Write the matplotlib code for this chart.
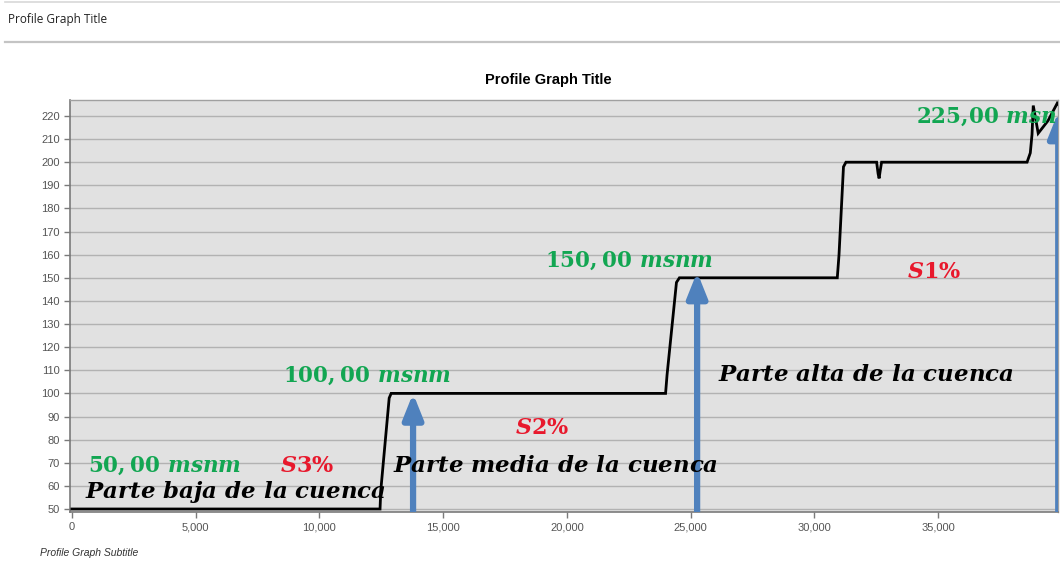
import matplotlib
matplotlib.use("Agg")
import matplotlib.pyplot as plt
from matplotlib.lines import Line2D
from matplotlib.patches import FancyArrowPatch
from matplotlib.ticker import FuncFormatter, MultipleLocator

# =============================================================================
# DATOS DEL PERFIL
# =============================================================================
dist = [0, 12450, 12480, 12820, 12900, 23990, 24050, 24430, 24550,
        30930, 31000, 31180, 31280, 32520, 32580, 32620, 32660, 32720,
        38600, 38730, 38800, 38850, 39050, 39450, 39820, 39950]
elev = [50, 50, 58, 98, 100, 100, 108, 148, 150,
        150, 160, 198, 200, 200, 195, 193, 196, 200,
        200, 204, 212, 224.5, 212.5, 218, 225.5, 224]

# flechas (distancia, cota de la punta)
arrow_x = [13785, 25265, 39860]
arrow_top = [100, 152.5, 221.7]

# etiquetas
cotas = [r"$50,00\ msnm$", r"$100,00\ msnm$", r"$150,00\ msnm$", r"$225{,}00\ msnm$"]
cotas_pos = [(647, 66.0), (8530, 104.9), (19121, 154.7), (34119, 217.0)]
pendientes = [r"$S3\%$", r"$S2\%$", r"$S1\%$"]
pendientes_pos = [(8408, 66.0), (17908, 82.4), (33755, 149.9)]
partes = [r"$Parte\ baja\ de\ la\ cuenca$", r"$Parte\ media\ de\ la\ cuenca$",
          r"$Parte\ alta\ de\ la\ cuenca$"]
partes_pos = [(526, 54.8), (12976, 66.0), (26115, 105.4)]

plt.rcParams["mathtext.fontset"] = "custom"
plt.rcParams["mathtext.rm"] = "DejaVu Serif:bold"
plt.rcParams["mathtext.it"] = "DejaVu Serif:italic:bold"
plt.rcParams["mathtext.bf"] = "DejaVu Serif:bold"

VERDE = "#12a652"
ROJO = "#e8182c"
AZUL = "#4f81bd"

fig = plt.figure(figsize=(10.6, 5.63), dpi=100, facecolor="white")

# cabecera de ventana
fig.add_artist(Line2D([0.005, 1.0], [1 - 1.5 / 563] * 2, color="#d8d8d8", lw=1.2))
fig.add_artist(Line2D([0.005, 1.0], [1 - 41.5 / 563] * 2, color="#c4c4c4", lw=1.6))
fig.text(8 / 1060, 1 - 20 / 563, "Profile Graph Title", fontsize=8.5,
         family="Open Sans", color="#222222", va="center", ha="left")

ax = fig.add_axes([70 / 1060, 51 / 563, 988 / 1060, 412 / 563])
ax.set_facecolor("#e1e1e1")
ax.set_xlim(-80, 39850)
ax.set_ylim(48.7, 226.9)

ax.yaxis.set_major_locator(MultipleLocator(10))
ax.xaxis.set_major_locator(MultipleLocator(5000))
ax.xaxis.set_major_formatter(FuncFormatter(lambda v, p: f"{int(v):,}"))
ax.grid(axis="y", color="#b2b2b2", lw=1.0)
ax.set_axisbelow(True)

for s in ["left", "bottom"]:
    ax.spines[s].set_color("#7a7a7a")
    ax.spines[s].set_linewidth(1.2)
for s in ["top", "right"]:
    ax.spines[s].set_color("#a0a0a0")
    ax.spines[s].set_linewidth(1.0)
ax.tick_params(axis="both", labelsize=8, labelcolor="#555555", color="#7a7a7a",
               length=4, width=1, direction="out")
for lb in ax.get_xticklabels() + ax.get_yticklabels():
    lb.set_family("Liberation Sans")

ax.plot(dist, elev, color="black", lw=2, solid_joinstyle="miter", zorder=3)

for x, top in zip(arrow_x, arrow_top):
    ax.add_patch(FancyArrowPatch((x, 48.7), (x, top),
                                 arrowstyle="-|>,head_width=0.3,head_length=0.75",
                                 mutation_scale=20, lw=4.5, color=AZUL,
                                 shrinkA=0, shrinkB=0, zorder=4))

for txt, (x, y) in zip(cotas, cotas_pos):
    ax.text(x, y, txt, color=VERDE, fontsize=15.5, va="baseline", ha="left",
            clip_on=True, zorder=5)
for txt, (x, y) in zip(pendientes, pendientes_pos):
    ax.text(x, y, txt, color=ROJO, fontsize=16, va="baseline", ha="left", zorder=5)
for txt, (x, y) in zip(partes, partes_pos):
    ax.text(x, y, txt, color="black", fontsize=16.5, va="baseline", ha="left", zorder=5)

fig.text(548 / 1060, 1 - 80 / 563, "Profile Graph Title", fontsize=10.5,
         fontweight="bold", family="Liberation Sans", ha="center", va="center")
fig.text(40 / 1060, 1 - 553 / 563, "Profile Graph Subtitle", fontsize=7.5,
         style="italic", family="Liberation Sans", color="#333333",
         ha="left", va="center")

plt.savefig("out.png", dpi=100)
